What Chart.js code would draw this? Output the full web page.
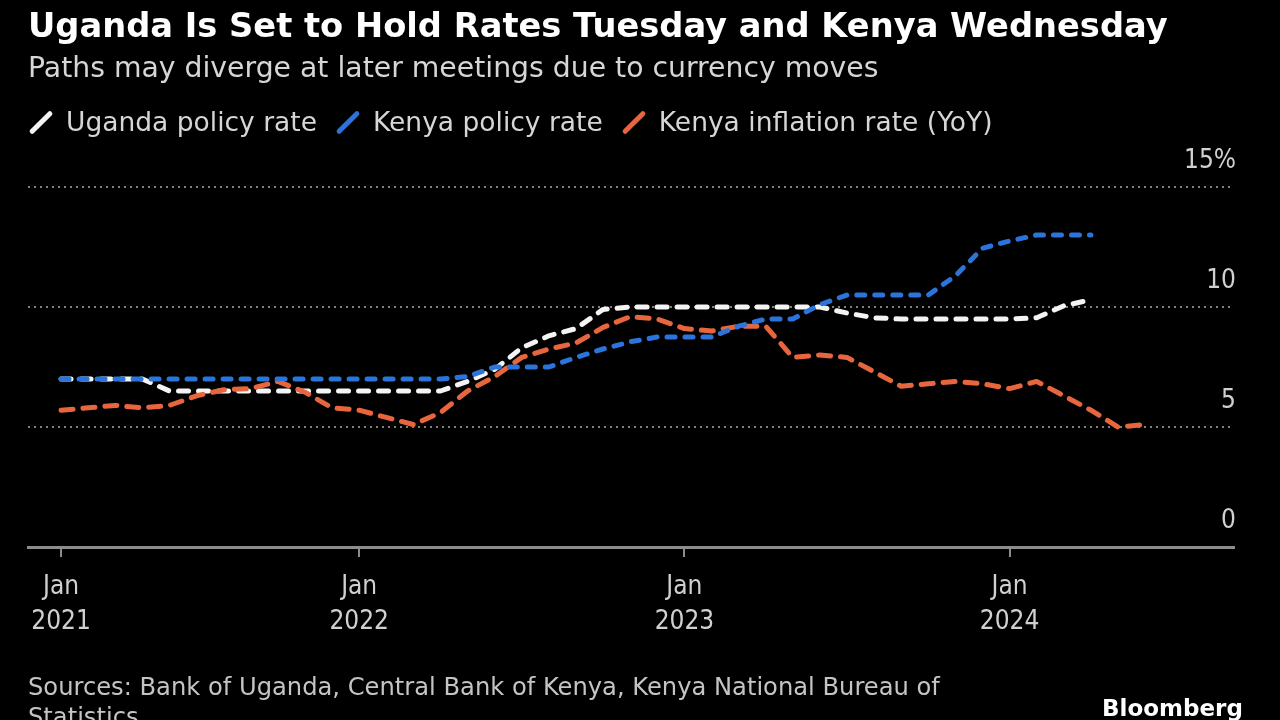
<!DOCTYPE html>
<html>
<head>
<meta charset="utf-8">
<script src="https://cdn.jsdelivr.net/npm/chart.js@4.4.1/dist/chart.umd.min.js"></script>
<style>
  html, body { margin: 0; padding: 0; background: #000; }
  body { width: 1280px; height: 720px; position: relative; overflow: hidden; font-family: 'DejaVu Sans', sans-serif; }
  #chart-box { position: absolute; left: 0; top: 0; width: 1280px; height: 720px; }
  .title { position: absolute; left: 28px; top: 9px; font-size: 33.7px; font-weight: bold; color: #fff; line-height: 1; white-space: nowrap; }
  .subtitle { position: absolute; left: 28px; top: 54px; font-size: 28.3px; color: #d6d6d6; line-height: 1; white-space: nowrap; }
  .legend { position: absolute; left: 28px; top: 109px; display: flex; font-size: 26.5px; color: #d6d6d6; line-height: 1; white-space: nowrap; }
  .legend-item { display: flex; align-items: center; margin-right: 18px; }
  .legend-swatch { width: 30px; height: 5px; border-radius: 3px; transform: rotate(-45deg); margin-left: -2px; margin-right: 10px; }
  .sources { position: absolute; left: 28px; top: 672px; font-size: 24.2px; color: #c4c4c4; line-height: 30px; white-space: nowrap; }
  .brand { position: absolute; left: 1102px; top: 697px; font-size: 23px; font-weight: bold; color: #fff; line-height: 1; }
</style>
</head>
<body>
<div id="chart-box"><canvas id="chart"></canvas></div>
<div class="title">Uganda Is Set to Hold Rates Tuesday and Kenya Wednesday</div>
<div class="subtitle">Paths may diverge at later meetings due to currency moves</div>
<div class="legend" id="legend"></div>
<div class="sources">Sources: Bank of Uganda, Central Bank of Kenya, Kenya National Bureau of<br>Statistics</div>
<div class="brand">Bloomberg</div>
<script>
'use strict';

// monthly values, first entry is Jan 2021 (plotted at month end)
const uganda_rate = [
    7.0, 7.0, 7.0, 7.0, 6.5, 6.5, 6.5, 6.5, 6.5, 6.5, 6.5, 6.5,
    6.5, 6.5, 6.5, 6.9, 7.4, 8.3, 8.8, 9.1, 9.9, 10.0, 10.0, 10.0,
    10.0, 10.0, 10.0, 10.0, 10.0, 9.75, 9.55, 9.5, 9.5, 9.5, 9.5, 9.5,
    9.55, 10.05, 10.3
];
const kenya_rate = [
    7.0, 7.0, 7.0, 7.0, 7.0, 7.0, 7.0, 7.0, 7.0, 7.0, 7.0, 7.0,
    7.0, 7.0, 7.0, 7.1, 7.5, 7.5, 7.5, 7.9, 8.25, 8.55, 8.75, 8.75,
    8.75, 9.2, 9.5, 9.5, 10.1, 10.5, 10.5, 10.5, 10.5, 11.3, 12.45, 12.75,
    13.0, 13.0, 13.0
];
const kenya_inflation = [
    5.7, 5.8, 5.9, 5.8, 5.9, 6.3, 6.55, 6.6, 6.9, 6.45, 5.8, 5.7,
    5.4, 5.1, 5.6, 6.5, 7.1, 7.9, 8.25, 8.5, 9.15, 9.6, 9.5, 9.1,
    9.0, 9.2, 9.2, 7.9, 8.0, 7.9, 7.3, 6.7, 6.8, 6.9, 6.8, 6.6,
    6.9, 6.3, 5.7, 5.0, 5.1
];

const series_names = ['Uganda policy rate', 'Kenya policy rate', 'Kenya inflation rate (YoY)'];
const series_colors = ['#f4f4f4', '#2b74db', '#e8663e'];

const x_tick_months = [1, 12, 24, 36];
const x_tick_labels = [['Jan', '2021'], ['Jan', '2022'], ['Jan', '2023'], ['Jan', '2024']];
const y_tick_values = [0, 5, 10, 15];

const to_points = values => values.map((v, i) => ({ x: i + 1, y: v }));

const build_legend = () => {
    const legend = document.querySelector('#legend');
    series_names.forEach((name, i) => {
        const item = document.createElement('span');
        item.classList.add('legend-item');
        const swatch = document.createElement('span');
        swatch.classList.add('legend-swatch');
        swatch.style.background = series_colors[i];
        item.appendChild(swatch);
        item.appendChild(document.createTextNode(name));
        legend.appendChild(item);
    });
}

const tick_font = { family: "'DejaVu Sans Condensed', 'DejaVu Sans', sans-serif", size: 26 };

const line_set = (index, values, dash, order) => ({
    label: series_names[index],
    data: to_points(values),
    borderColor: series_colors[index],
    borderWidth: 5,
    borderDash: dash,
    borderCapStyle: 'round',
    borderJoinStyle: 'round',
    pointRadius: 0,
    tension: 0,
    order: order
});

build_legend();

new Chart(document.querySelector('#chart'), {
    type: 'line',
    data: {
        datasets: [
            line_set(0, uganda_rate, [10, 10], 2),
            line_set(1, kenya_rate, [8, 10], 0),
            line_set(2, kenya_inflation, [12, 10], 1)
        ]
    },
    options: {
        responsive: true,
        maintainAspectRatio: false,
        animation: false,
        layout: { padding: { left: 28, right: 42, top: 187, bottom: 0 } },
        plugins: { legend: { display: false }, tooltip: { enabled: false } },
        scales: {
            x: {
                type: 'linear',
                min: -0.22,
                max: 44.28,
                afterBuildTicks: axis => { axis.ticks = x_tick_months.map(v => ({ value: v })); },
                afterFit: axis => { axis.height = 173; },
                grid: { display: true, drawOnChartArea: false, drawTicks: true, tickLength: 10, color: '#8c8c8c', lineWidth: 2 },
                border: { display: true, color: '#8c8c8c', width: 3 },
                ticks: {
                    color: '#d0d0d0',
                    font: { ...tick_font, lineHeight: 1.35 },
                    padding: 13,
                    maxRotation: 0,
                    autoSkip: false,
                    callback: (value, index) => x_tick_labels[index]
                }
            },
            y: {
                position: 'right',
                min: 0,
                max: 15,
                afterBuildTicks: axis => { axis.ticks = y_tick_values.map(v => ({ value: v })); },
                grid: {
                    drawTicks: false,
                    lineWidth: 2,
                    color: ctx => (ctx.tick && ctx.tick.value === 0) ? 'rgba(0,0,0,0)' : '#808080'
                },
                border: { display: false, dash: [2, 4] },
                ticks: {
                    mirror: true,
                    padding: 2,
                    labelOffset: -26,
                    color: '#d0d0d0',
                    font: tick_font,
                    callback: value => value === 15 ? '15%' : value
                }
            }
        }
    }
});
</script>
</body>
</html>
